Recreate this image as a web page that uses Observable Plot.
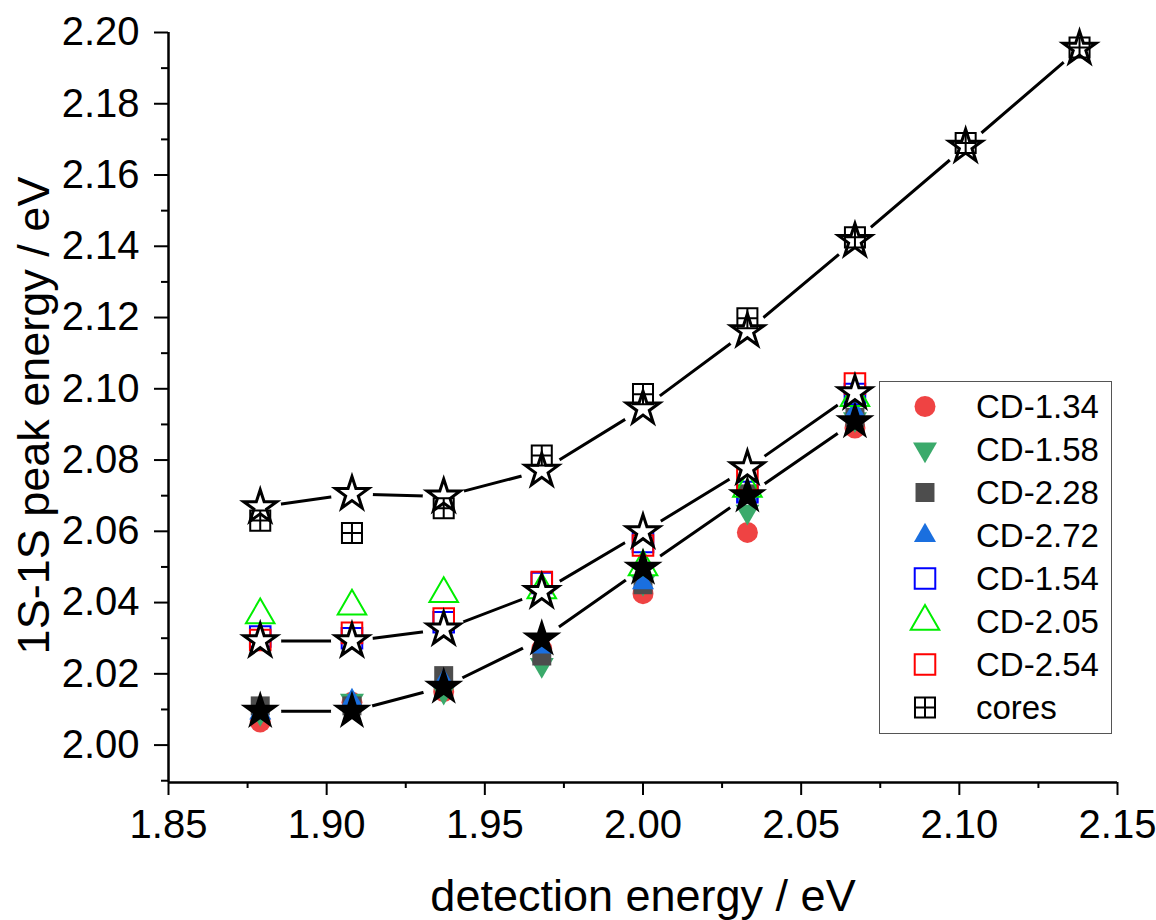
<!DOCTYPE html>
<html><head><meta charset="utf-8">
<script src="https://cdn.jsdelivr.net/npm/d3@7"></script>
<script src="https://cdn.jsdelivr.net/npm/@observablehq/plot@0.6"></script>
<style>
body{margin:0;background:#fff;font-family:"Liberation Sans",Arial,sans-serif;}
#wrap{position:relative;width:1156px;height:920px;}
#legend{position:absolute;left:879px;top:381px;width:233px;border:1.5px solid #555;box-sizing:border-box;padding:3px 0 4px 0;background:#fff;}
.row{display:flex;align-items:center;height:43px;}
.row svg{width:96px;height:43px;flex:none;}
.row span{font-size:33px;color:#000;line-height:43px;}
</style></head><body><div id="wrap"></div>
<script>
// ---- data ----
const energy = [1.879, 1.908, 1.937, 1.968, 2.000, 2.033, 2.067, 2.102, 2.138];
const cd134 = [2.0065, 2.012, 2.015, 2.027, 2.0425, 2.0597, 2.089];
const cd158 = [2.009, 2.0125, 2.015, 2.0225, 2.0455, 2.0655, 2.0915];
const cd228 = [2.011, 2.011, 2.0195, 2.025, 2.045, 2.0705, 2.092];
const cd272 = [2.009, 2.0125, 2.018, 2.0275, 2.0455, 2.070, 2.0935];
const cd154 = [2.0305, 2.030, 2.0345, 2.0455, 2.057, 2.071, 2.0985];
const cd205 = [2.0365, 2.039, 2.0425, 2.0435, 2.050, 2.072, 2.0975];
const cd254 = [2.0295, 2.0315, 2.0355, 2.0458, 2.056, 2.0745, 2.1015];
const cores = [2.063, 2.0595, 2.0665, 2.0813, 2.0985, 2.1198, 2.1425, 2.169, 2.1958];
const starTop = [2.0668, 2.0705, 2.0698, 2.077, 2.0945, 2.1162, 2.1415, 2.168, 2.1955];
const starMid = [2.0292, 2.0292, 2.0325, 2.043, 2.0598, 2.0777, 2.0988];
const starBottom = [2.0095, 2.0095, 2.0163, 2.0298, 2.0497, 2.070, 2.0908];
const xMajor = [1.85, 1.90, 1.95, 2.00, 2.05, 2.10, 2.15];
const xMinor = [1.875, 1.925, 1.975, 2.025, 2.075, 2.125];
const yMajor = [2.00, 2.02, 2.04, 2.06, 2.08, 2.10, 2.12, 2.14, 2.16, 2.18, 2.20];
const yMinor = [1.99, 2.01, 2.03, 2.05, 2.07, 2.09, 2.11, 2.13, 2.15, 2.17, 2.19];
const xTitle = "detection energy / eV";
const yTitle = "1S-1S peak energy / eV";

// ---- symbols ----
const triDown = {draw(ctx, size) {
  const y = Math.sqrt(size / (Math.sqrt(3) * 3));
  ctx.moveTo(0, y * 2); ctx.lineTo(-Math.sqrt(3) * y, -y); ctx.lineTo(Math.sqrt(3) * y, -y); ctx.closePath();
}};
const boxPlus = {draw(ctx, size) {
  const s = Math.sqrt(size) / 2;
  ctx.moveTo(-s, -s); ctx.lineTo(s, -s); ctx.lineTo(s, s); ctx.lineTo(-s, s); ctx.closePath();
  ctx.moveTo(0, -s); ctx.lineTo(0, s); ctx.moveTo(-s, 0); ctx.lineTo(s, 0);
}};

const series = [
  {name: "CD-1.34", values: cd134, symbol: d3.symbolCircle, r: 10.5, fill: "#EF4343", stroke: "none", sw: 0},
  {name: "CD-1.58", values: cd158, symbol: triDown, r: 8.9, fill: "#3BAA6B", stroke: "none", sw: 0},
  {name: "CD-2.28", values: cd228, symbol: d3.symbolSquare, r: 10.7, fill: "#4D4D4D", stroke: "none", sw: 0},
  {name: "CD-2.72", values: cd272, symbol: d3.symbolTriangle, r: 8.2, fill: "#1A6FDF", stroke: "none", sw: 0},
  {name: "CD-1.54", values: cd154, symbol: d3.symbolSquare, r: 11.6, fill: "none", stroke: "#0000FF", sw: 2},
  {name: "CD-2.05", values: cd205, symbol: d3.symbolTriangle, r: 10.6, fill: "none", stroke: "#00EE00", sw: 2},
  {name: "CD-2.54", values: cd254, symbol: d3.symbolSquare, r: 11.6, fill: "none", stroke: "#FF0000", sw: 2},
  {name: "cores", values: cores, symbol: boxPlus, r: 11.3, fill: "none", stroke: "#000", sw: 2}
];
const toPts = (vals, name) => vals.map((v, i) => ({x: energy[i], y: v, s: name}));

const starSets = [
  {name: "top", values: starTop, fill: "none", sw: 3},
  {name: "mid", values: starMid, fill: "white", sw: 3},
  {name: "bottom", values: starBottom, fill: "black", sw: 2}
];
const starPts = starSets.flatMap(s => toPts(s.values, s.name));

const font = '"Liberation Sans", Arial, sans-serif';
const marks = [
  Plot.axisX({ticks: xMinor, tickSize: 6, tickFormat: () => "", strokeWidth: 2, label: null}),
  Plot.axisX({ticks: xMajor, tickSize: 13, tickPadding: 14, tickFormat: d3.format(".2f"), fontSize: 40, strokeWidth: 2, label: null}),
  Plot.axisY({ticks: yMinor, tickSize: 7, tickFormat: () => "", strokeWidth: 2, label: null}),
  Plot.axisY({ticks: yMajor, tickSize: 14, tickPadding: 15, tickFormat: d3.format(".2f"), fontSize: 40, strokeWidth: 2, label: null}),
  Plot.ruleY([1.9895], {stroke: "black", strokeWidth: 2.5}),
  Plot.ruleX([1.85], {stroke: "black", strokeWidth: 2.5}),
  Plot.line(starPts, {x: "x", y: "y", z: "s", stroke: "black", strokeWidth: 3}),
  Plot.dot(starPts, {x: "x", y: "y", r: 21, fill: "white", stroke: "none"}),
  ...series.map(s => Plot.dot(toPts(s.values, s.name), {x: "x", y: "y", symbol: () => s.symbol, r: s.r, fill: s.fill, stroke: s.stroke, strokeWidth: s.sw})),
  ...starSets.map(s => Plot.dot(toPts(s.values, s.name), {x: "x", y: "y", symbol: () => d3.symbolStar, r: 10.4, fill: s.fill, stroke: "black", strokeWidth: s.sw, strokeLinejoin: "miter"})),
  Plot.text([xTitle], {frameAnchor: "bottom", dy: 128, lineAnchor: "bottom", textAnchor: "middle", fontSize: 45, fill: "black"}),
  Plot.text([yTitle], {frameAnchor: "left", dx: -120, dy: 8, rotate: -90, lineAnchor: "bottom", textAnchor: "middle", fontSize: 45, fill: "black"})
];

const plot = Plot.plot({
  width: 1156, height: 920,
  marginLeft: 168, marginRight: 39, marginTop: 32, marginBottom: 138,
  style: {fontFamily: font, background: "white", color: "black", overflow: "visible"},
  x: {domain: [1.85, 2.15], label: null},
  y: {domain: [1.9895, 2.2], label: null},
  symbol: {type: "identity"},
  marks
});
const wrap = document.getElementById("wrap");
wrap.appendChild(plot);

// ---- legend ----
const legend = document.createElement("div");
legend.id = "legend";
for (const s of series) {
  const row = document.createElement("div");
  row.className = "row";
  const d = d3.symbol(s.symbol, Math.PI * s.r * s.r)();
  row.innerHTML = `<svg viewBox="-45 -21.5 96 43"><path d="${d}" fill="${s.fill}" stroke="${s.stroke}" stroke-width="${s.sw}"/></svg><span>${s.name}</span>`;
  legend.appendChild(row);
}
wrap.appendChild(legend);
</script>
</body></html>
